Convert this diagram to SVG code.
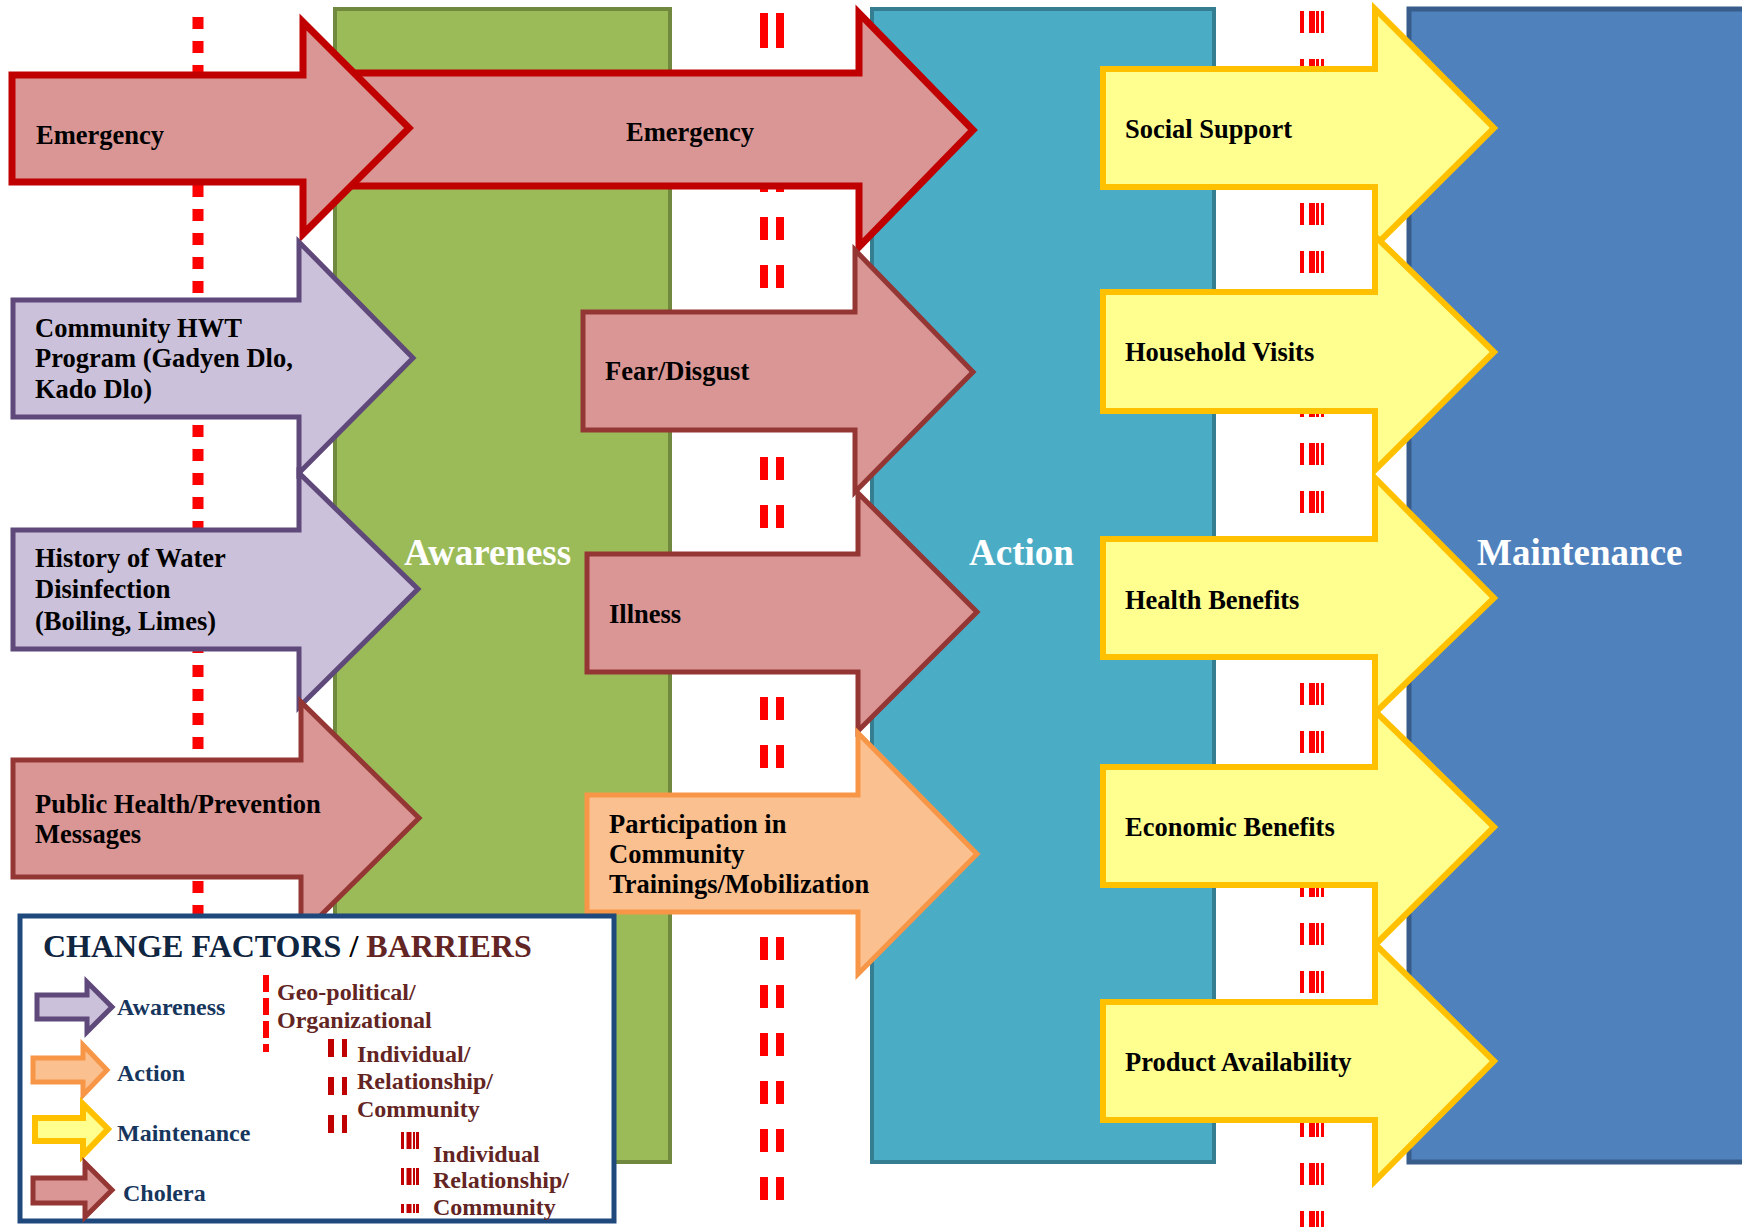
<svg xmlns="http://www.w3.org/2000/svg" width="1742" height="1227" viewBox="0 0 1742 1227">
<style>
  .lbl{font-family:"Liberation Serif","Times New Roman",serif;font-weight:bold;font-size:26.5px;fill:#000}
  .stage{font-family:"Liberation Serif","Times New Roman",serif;font-weight:bold;font-size:37px;fill:#fff}
  .leg{font-family:"Liberation Serif","Times New Roman",serif;font-weight:bold;font-size:24px;fill:#17365d}
  .bar{font-family:"Liberation Serif","Times New Roman",serif;font-weight:bold;font-size:24px;fill:#632523}
  .cholera{fill:#d99694;stroke:#943634;stroke-width:5;stroke-linejoin:miter}
  .emerg{fill:#d99694;stroke:#c00000;stroke-width:7;stroke-linejoin:miter}
  .aware{fill:#ccc1da;stroke:#5f497a;stroke-width:5;stroke-linejoin:miter}
  .action{fill:#fac090;stroke:#f79646;stroke-width:5;stroke-linejoin:miter}
  .maint{fill:#ffff8f;stroke:#ffc000;stroke-width:6;stroke-linejoin:miter}
</style>
<rect width="1742" height="1227" fill="#fff"/>
<g id="stage-awareness">
  <rect x="335" y="9" width="335" height="1153" fill="#9bbb59" stroke="#71893f" stroke-width="4"/>
</g>
<g id="stage-action">
  <rect x="872" y="9" width="342" height="1153" fill="#4bacc6" stroke="#357d91" stroke-width="4"/>
</g>
<g id="stage-maintenance">
  <rect x="1409" y="9" width="345" height="1153" fill="#4f81bd" stroke="#385d8a" stroke-width="5"/>
</g>
<g id="barriers">
  <line x1="198" y1="17" x2="198" y2="1210" stroke="#ff0000" stroke-width="11" stroke-dasharray="12 12"/>
  <rect x="760" y="13" width="8" height="35" fill="#ff0000"/>
  <rect x="776" y="13" width="8" height="35" fill="#ff0000"/>
  <line x1="764" y1="73" x2="764" y2="1200" stroke="#ff0000" stroke-width="8" stroke-dasharray="23 25"/>
  <line x1="780" y1="73" x2="780" y2="1200" stroke="#ff0000" stroke-width="8" stroke-dasharray="23 25"/>
  <g stroke="#ff0000" stroke-dasharray="22 26">
    <line x1="1302" y1="11" x2="1302" y2="1227" stroke-width="4"/>
    <line x1="1312" y1="11" x2="1312" y2="1227" stroke-width="6"/>
    <line x1="1317.5" y1="11" x2="1317.5" y2="1227" stroke-width="3"/>
    <line x1="1322.5" y1="11" x2="1322.5" y2="1227" stroke-width="3"/>
  </g>
</g>
<g id="stage-labels">
  <text class="stage" x="404" y="565">Awareness</text>
  <text class="stage" x="969" y="565">Action</text>
  <text class="stage" x="1477" y="565">Maintenance</text>
</g>
<g id="emergency-2">
  <path class="emerg" d="M320,73 H859 V13 L973,130 L859,247 V186 H320 Z"/>
  <text class="lbl" x="626" y="141">Emergency</text>
</g>
<g id="emergency-1">
  <path class="emerg" d="M12,75 H303 V22 L409,128 L303,234 V182 H12 Z"/>
  <text class="lbl" x="36" y="144">Emergency</text>
</g>
<g id="community-hwt">
  <path class="aware" d="M13,300 H299 V242 L413,358 L299,473 V417 H13 Z"/>
  <text class="lbl" x="35" y="337">Community HWT</text>
  <text class="lbl" x="35" y="367">Program (Gadyen Dlo,</text>
  <text class="lbl" x="35" y="398">Kado Dlo)</text>
</g>
<g id="history-disinfection">
  <path class="aware" d="M13,530 H299 V473 L418,589 L299,707 V649 H13 Z"/>
  <text class="lbl" x="35" y="567">History of Water</text>
  <text class="lbl" x="35" y="598">Disinfection</text>
  <text class="lbl" x="35" y="630">(Boiling, Limes)</text>
</g>
<g id="public-health">
  <path class="cholera" d="M13,760 H301 V702 L419,818 L301,935 V877 H13 Z"/>
  <text class="lbl" x="35" y="813">Public Health/Prevention</text>
  <text class="lbl" x="35" y="843">Messages</text>
</g>
<g id="fear-disgust">
  <path class="cholera" d="M583,312 H855 V250 L973,372 L855,492 V430 H583 Z"/>
  <text class="lbl" x="605" y="380">Fear/Disgust</text>
</g>
<g id="illness">
  <path class="cholera" d="M587,554 H858 V493 L977,612 L858,731 V672 H587 Z"/>
  <text class="lbl" x="609" y="623">Illness</text>
</g>
<g id="participation">
  <path class="action" d="M587,795 H858 V733 L977,854 L858,974 V912 H587 Z"/>
  <text class="lbl" x="609" y="833">Participation in</text>
  <text class="lbl" x="609" y="863">Community</text>
  <text class="lbl" x="609" y="893">Trainings/Mobilization</text>
</g>
<g id="social-support">
  <path class="maint" d="M1103,69 H1375 V9 L1494,128 L1375,246 V187 H1103 Z"/>
  <text class="lbl" x="1125" y="138">Social Support</text>
</g>
<g id="household-visits">
  <path class="maint" d="M1103,292 H1375 V236 L1494,352 L1375,470 V411 H1103 Z"/>
  <text class="lbl" x="1125" y="361">Household Visits</text>
</g>
<g id="health-benefits">
  <path class="maint" d="M1103,539 H1375 V478 L1494,598 L1375,713 V657 H1103 Z"/>
  <text class="lbl" x="1125" y="609">Health Benefits</text>
</g>
<g id="economic-benefits">
  <path class="maint" d="M1103,767 H1375 V711 L1494,827 L1375,945 V885 H1103 Z"/>
  <text class="lbl" x="1125" y="836">Economic Benefits</text>
</g>
<g id="product-availability">
  <path class="maint" d="M1103,1002 H1375 V944 L1494,1061 L1375,1181 V1120 H1103 Z"/>
  <text class="lbl" x="1125" y="1071">Product Availability</text>
</g>
<g id="legend">
  <rect x="20" y="916" width="594" height="305" fill="#fff" stroke="#1f497d" stroke-width="5"/>
  <text x="43" y="957" font-family="Liberation Serif, serif" font-weight="bold" font-size="32"><tspan fill="#10253f">CHANGE FACTORS </tspan><tspan fill="#000">/ </tspan><tspan fill="#632523">BARRIERS</tspan></text>
  <path class="aware" d="M37,995 H87 V982 L112,1007 L87,1032 V1019 H37 Z"/>
  <path class="action" d="M33,1058 H83 V1045 L107,1070 L83,1095 V1082 H33 Z"/>
  <path class="maint" stroke-width="5" d="M35,1118 H83 V1104 L108,1129 L83,1155 V1141 H35 Z"/>
  <path class="cholera" d="M33,1178 H85 V1163 L112,1190 L85,1217 V1203 H33 Z"/>
  <text class="leg" x="117" y="1015">Awareness</text>
  <text class="leg" x="117" y="1081">Action</text>
  <text class="leg" x="117" y="1141">Maintenance</text>
  <text class="leg" x="123" y="1201">Cholera</text>
  <line x1="266" y1="975" x2="266" y2="1052" stroke="#ff0000" stroke-width="6" stroke-dasharray="17 6"/>
  <text class="bar" x="277" y="1000">Geo-political/</text>
  <text class="bar" x="277" y="1028">Organizational</text>
  <g stroke="#c00000" stroke-dasharray="18 20">
    <line x1="331" y1="1039" x2="331" y2="1133" stroke-width="6"/>
    <line x1="344.5" y1="1039" x2="344.5" y2="1133" stroke-width="5"/>
  </g>
  <text class="bar" x="357" y="1062">Individual/</text>
  <text class="bar" x="357" y="1089">Relationship/</text>
  <text class="bar" x="357" y="1117">Community</text>
  <g stroke="#c00000" stroke-dasharray="17 19">
    <line x1="402.5" y1="1132" x2="402.5" y2="1213" stroke-width="3"/>
    <line x1="409" y1="1132" x2="409" y2="1213" stroke-width="5"/>
    <line x1="414" y1="1132" x2="414" y2="1213" stroke-width="2"/>
    <line x1="417.5" y1="1132" x2="417.5" y2="1213" stroke-width="3"/>
  </g>
  <text class="bar" x="433" y="1162">Individual</text>
  <text class="bar" x="433" y="1188">Relationship/</text>
  <text class="bar" x="433" y="1215">Community</text>
</g>
</svg>
